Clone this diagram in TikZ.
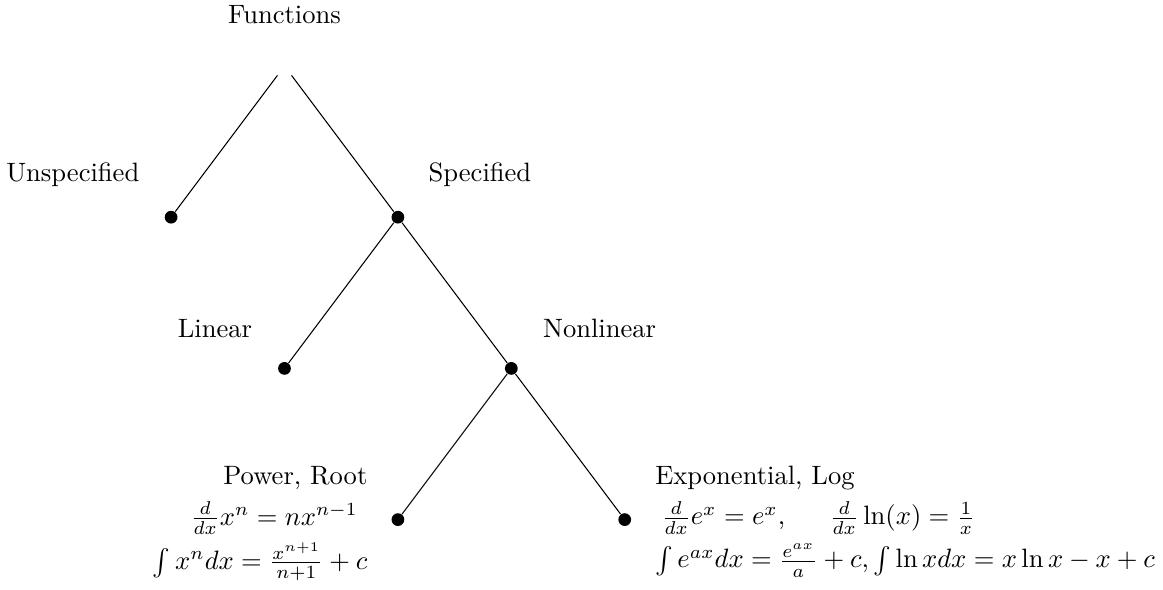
\documentclass[tikz,border=0pt]{standalone}
\usepackage{amsmath,amssymb}
\usetikzlibrary{positioning}
\tikzset{
  dot/.style   ={circle,fill=black,inner sep=0pt,minimum size=4.8pt},
  top/.style   ={inner sep=3.33pt},
  lbl/.style   ={inner sep=3.33pt},
  rl/.style    ={inner sep=1pt,anchor=base east},
  rr/.style    ={inner sep=1pt,anchor=base west},
  brn/.style   ={draw=black,line width=0.4pt},
}
\begin{document}
\begin{tikzpicture}[x=1mm,y=1mm]
\useasboundingbox (-37.63,8.73) rectangle (116.2,-69.31);

% ---- points of the tree --------------------------------------------------
\node[top] (root) at (0,0) {};
\foreach \nm/\x/\y in {uns/-15/-20, spe/15/-20, lin/0/-40, non/30/-40,
                       pow/15/-60, exl/45/-60}
  \node[dot] (\nm) at (\x,\y) {};

% ---- branches ------------------------------------------------------------
\foreach \a/\b in {root/uns, root/spe, spe/lin, spe/non, non/pow, non/exl}
  \draw[brn] (\a) -- (\b);

% ---- labels --------------------------------------------------------------
\node[lbl,above=8.8pt of root]             (tFun) {Functions};
\node[lbl,above left=6.3pt and 6.6pt of uns]  (tUns) {Unspecified};
\node[lbl,above right=6.3pt and 6.2pt of spe] (tSpe) {Specified};
\node[lbl,above left=6.3pt and 6.8pt of lin]  (tLin) {Linear};
\node[lbl,above right=6.3pt and 6.6pt of non] (tNon) {Nonlinear};

% ---- the rules beside the two leaves (one node a line) -------------------
\node[rl] (pow1) at ([xshift=-10.3pt,yshift=13.3pt]pow)  {Power, Root};
\node[rl] (pow2) at ([xshift=-13.9pt,yshift=-2.2pt]pow)  {$\frac{d}{dx}x^n = nx^{n-1}$};
\node[rl] (pow3) at ([xshift=-10.3pt,yshift=-18.8pt]pow) {$\int x^n dx = \frac{x^{n+1}}{n+1} + c$};

\node[rr] (exl1) at ([xshift=10.3pt,yshift=13.3pt]exl)   {Exponential, Log};
\node[rr] (exl2) at ([xshift=12.6pt,yshift=-2.0pt]exl)   {$\frac{d}{dx}e^x = e^x$, \quad\ $\frac{d}{dx}\ln(x) = \frac{1}{x}$};
\node[rr] (exl3) at ([xshift=10.3pt,yshift=-18.2pt]exl)  {$\int e^{ax} dx = \frac{e^{ax}}{a} + c, \int \ln x dx = x\ln x - x + c$};
\end{tikzpicture}
\end{document}
